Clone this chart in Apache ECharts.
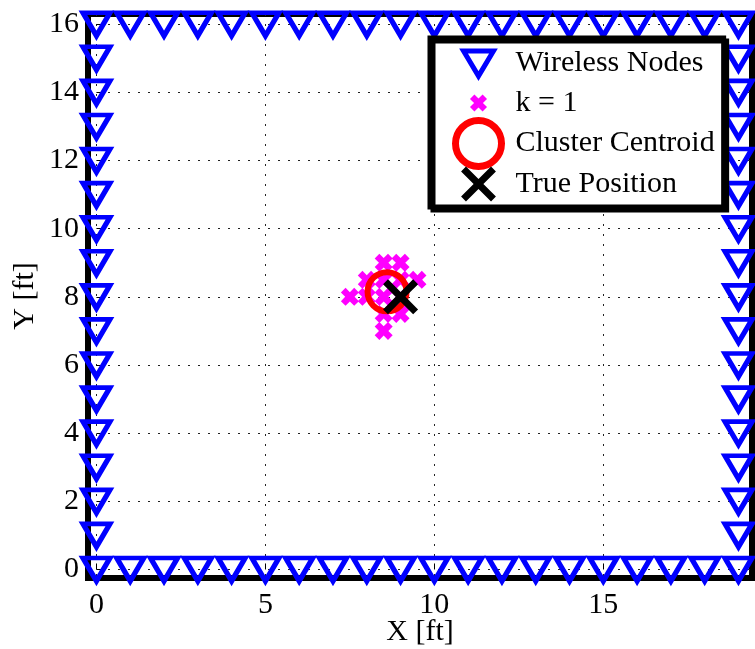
<!DOCTYPE html>
<html>
<head>
<meta charset="utf-8">
<script src="https://cdn.jsdelivr.net/npm/echarts@6/dist/echarts.min.js"></script>
<style>html,body{margin:0;padding:0;background:#fff}#c{width:755px;height:649px}</style>
</head>
<body>
<div id="c"></div>
<script>
// ---- data ----
const xTicks = [0, 5, 10, 15];
const yTicks = [0, 2, 4, 6, 8, 10, 12, 14, 16];
const bottomNodesX = [0,1,2,3,4,5,6,7,8,9,10,11,12,13,14,15,16,17,18,19];
const bottomNodesY = [0,0,0,0,0,0,0,0,0,0,0,0,0,0,0,0,0,0,0,0];
const topNodesX = [0,1,2,3,4,5,6,7,8,9,10,11,12,13,14,15,16,17,18,19];
const topNodesY = [16,16,16,16,16,16,16,16,16,16,16,16,16,16,16,16,16,16,16,16];
const leftNodesX = [0,0,0,0,0,0,0,0,0,0,0,0,0,0,0];
const leftNodesY = [1,2,3,4,5,6,7,8,9,10,11,12,13,14,15];
const rightNodesX = [19,19,19,19,19,19,19,19,19,19,19,19,19,19,19];
const rightNodesY = [1,2,3,4,5,6,7,8,9,10,11,12,13,14,15];
const kX = [8.5, 9, 8, 9.5, 7.5, 8, 8.5, 9, 8.5, 8.5, 9, 8.5, 9];
const kY = [9, 9, 8.5, 8.5, 8, 8, 8.5, 8.5, 8, 7.5, 7.5, 7, 8];
const centroidX = [8.6];
const centroidY = [8.15];
const trueX = [9];
const trueY = [8];
const seriesNames = ['Wireless Nodes', 'k = 1', 'Cluster Centroid', 'True Position'];

function pairs(xs, ys) { return xs.map((x, i) => [x, ys[i]]); }
const nodes = [].concat(pairs(bottomNodesX, bottomNodesY), pairs(topNodesX, topNodesY),
                        pairs(leftNodesX, leftNodesY), pairs(rightNodesX, rightNodesY));

const triBody = 'M0,0 L100,0 L50,84 Z';
const triDown = 'path://' + triBody;
const triLegend = 'path://M-27,-35 M127,119 ' + triBody;
const pinkBody = 'M0,26 L26,0 L50,24 L74,0 L100,26 L76,50 L100,74 L74,100 L50,76 L26,100 L0,74 L24,50 Z';
const crossPink = 'path://' + pinkBody;
const crossPinkLegend = 'path://M-85,-85 M185,185 ' + pinkBody;
const blackBody = 'M0,14 L14,0 L50,36 L86,0 L100,14 L64,50 L100,86 L86,100 L50,64 L14,100 L0,86 L36,50 Z';
const crossBlack = 'path://' + blackBody;
const crossBlackLegend = 'path://M-16,-16 M116,116 ' + blackBody;

const FONT = "'Liberation Serif','Times New Roman',serif";
const chart = echarts.init(document.getElementById('c'), null, {renderer: 'canvas'});
chart.setOption({
  animation: false,
  backgroundColor: '#fff',
  grid: {left: 88, right: 3, top: 14, bottom: 71, outerBoundsMode: 'none', containLabel: false,
         show: true, borderColor: '#000', borderWidth: 6, backgroundColor: 'transparent'},
  xAxis: {
    type: 'value', min: -0.25, max: 19.4,
    name: 'X [ft]', nameLocation: 'middle', nameGap: 39, nameMoveOverlap: false,
    nameTextStyle: {fontFamily: FONT, fontSize: 30, color: '#000'},
    axisLine: {show: false},
    axisTick: {show: true, inside: true, length: 6, customValues: xTicks, lineStyle: {color: '#000'}},
    axisLabel: {customValues: xTicks, margin: 12, fontFamily: FONT, fontSize: 30, color: '#000'},
    splitLine: {show: true, lineStyle: {color: '#222', width: 1, type: [2, 8]}}
  },
  yAxis: {
    type: 'value', min: -0.25, max: 16.3,
    name: 'Y [ft]', nameLocation: 'middle', nameGap: 48, nameMoveOverlap: false,
    nameTextStyle: {fontFamily: FONT, fontSize: 30, color: '#000'},
    axisLine: {show: false},
    axisTick: {show: true, inside: true, length: 6, customValues: yTicks, lineStyle: {color: '#000'}},
    axisLabel: {customValues: yTicks, margin: 9, fontFamily: FONT, fontSize: 30, color: '#000'},
    splitLine: {show: true, lineStyle: {color: '#222', width: 1, type: [2, 8]}}
  },
  legend: {
    orient: 'vertical', left: 430, top: 38,
    padding: [0, 9, 0, 22],
    itemWidth: 46, itemHeight: 46, itemGap: -9,
    backgroundColor: '#fff', borderColor: '#000', borderWidth: 5,
    shadowColor: '#000', shadowBlur: 0, shadowOffsetX: 3, shadowOffsetY: 3,
    textStyle: {fontFamily: FONT, fontSize: 30, color: '#000', padding: [0, 0, 0, 9]},
    data: [
      {name: seriesNames[0], icon: triLegend, itemStyle: {color: 'rgba(255,255,255,0)', borderColor: '#0000ff', borderWidth: 5}},
      {name: seriesNames[1], icon: crossPinkLegend},
      {name: seriesNames[2], icon: 'circle', itemStyle: {color: 'rgba(255,255,255,0)', borderColor: '#ff0000', borderWidth: 7}},
      {name: seriesNames[3], icon: crossBlackLegend}
    ]
  },
  series: [
    {name: seriesNames[0], type: 'scatter', data: nodes, symbol: triDown,
     symbolSize: [27, 23], clip: false,
     itemStyle: {color: 'rgba(255,255,255,0)', borderColor: '#0000ff', borderWidth: 5, opacity: 1}},
    {name: seriesNames[1], type: 'scatter', data: pairs(kX, kY), symbol: crossPink, symbolSize: 18,
     itemStyle: {color: '#ff00ff', opacity: 1}},
    {name: seriesNames[2], type: 'scatter', data: pairs(centroidX, centroidY), symbol: 'circle', symbolSize: 39,
     itemStyle: {color: 'rgba(255,255,255,0)', borderColor: '#ff0000', borderWidth: 6, opacity: 1}},
    {name: seriesNames[3], type: 'scatter', data: pairs(trueX, trueY), symbol: crossBlack, symbolSize: 35,
     itemStyle: {color: '#000', opacity: 1}}
  ]
});
</script>
</body>
</html>
